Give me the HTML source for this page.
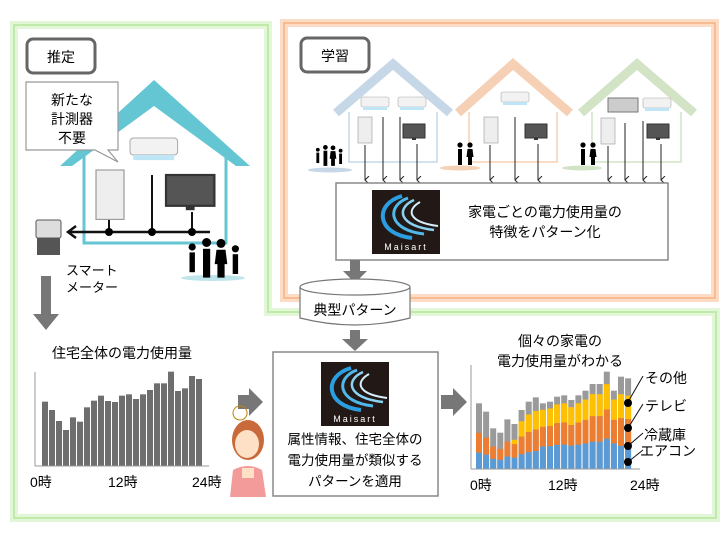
<!DOCTYPE html>
<html><head><meta charset="utf-8"><style>
body{margin:0;background:#fff;}
svg{display:block;font-family:"Liberation Sans","Noto Sans CJK JP",sans-serif;}
</style></head><body>
<svg id="s" width="728" height="539" viewBox="0 0 728 539" xmlns="http://www.w3.org/2000/svg">
<defs>
<g id="logo">
<rect width="68" height="64" fill="#221916"/>
<path d="M30 6 C2 14 4 44 40 48" fill="none" stroke="#2a9ee0" stroke-width="4"/>
<path d="M36 8 C14 16 16 40 52 44" fill="none" stroke="#4fb8ea" stroke-width="3"/>
<path d="M42 10 C24 18 26 36 62 40" fill="none" stroke="#8ad3f2" stroke-width="2.5"/>
<path d="M48 12 C34 20 36 32 66 36" fill="none" stroke="#d6f0fb" stroke-width="2"/>
<text x="34" y="60" font-size="9" fill="#fff" text-anchor="middle" letter-spacing="2">Maisart</text>
</g>
<g id="ac"><rect width="28" height="10" rx="2" fill="#f2f2f2" stroke="#aaa" stroke-width="0.6"/><rect x="2" y="10" width="24" height="3" fill="#bfe6f7"/></g>
<g id="fr"><rect width="14" height="26" fill="#eee" stroke="#999" stroke-width="0.6"/></g>
<g id="tv"><rect width="22" height="14" fill="#555" stroke="#333"/><rect x="9" y="14" width="4" height="2" fill="#333"/></g>
<g id="ppl"><circle cx="4" cy="5" r="2"/><path d="M2.5 8 h3 v11 h-3z"/><circle cx="12" cy="2.5" r="2.5"/><path d="M10 6 h4 v16 h-4z"/><circle cx="20" cy="3" r="2.5"/><path d="M17.5 6.5 h5 l1 8 h-1.5 v7.5 h-4 v-7.5 h-1.5z"/><circle cx="28" cy="6" r="2"/><path d="M26.5 9 h3 v11 h-3z"/></g>
<marker id="ah" markerWidth="8" markerHeight="8" refX="4" refY="7" orient="auto" markerUnits="userSpaceOnUse"><path d="M0 3 L4 7 L8 3" fill="none" stroke="#222" stroke-width="1"/></marker>
</defs>

<path d="M14 25 H268 V312 H716 V518 H14 Z" fill="none" stroke="#e3f6d8" stroke-width="8"/>
<path d="M14 25 H268 V312 H716 V518 H14 Z" fill="none" stroke="#b4e59a" stroke-width="1.5"/>
<rect x="284" y="23" width="431" height="275" fill="none" stroke="#fcdcc4" stroke-width="8"/>
<rect x="284" y="23" width="431" height="275" fill="none" stroke="#f8b081" stroke-width="1.5"/>

<rect x="27" y="39" width="68" height="34" rx="6" fill="#fff" stroke="#666" stroke-width="3"/>
<text x="61" y="62" font-size="14" text-anchor="middle">推定</text>
<rect x="301" y="38" width="68" height="34" rx="6" fill="#fff" stroke="#666" stroke-width="3"/>
<text x="335" y="61" font-size="14" text-anchor="middle">学習</text>

<path d="M60 166 L154 80 L250 166 L236 166 L154 106 L72 166 Z" fill="#64c6d2"/>
<path d="M84 155 V243 H226 V155" fill="none" stroke="#64c6d2" stroke-width="3"/>
<path d="M26 82 H118 V150 H108 L118 162 L95 150 H26 Z" fill="#fff" stroke="#999" stroke-width="1.2"/>
<text x="72" y="105" font-size="14" text-anchor="middle">新たな</text>
<text x="72" y="124" font-size="14" text-anchor="middle">計測器</text>
<text x="72" y="143" font-size="14" text-anchor="middle">不要</text>
<use href="#ac" transform="translate(130,138) scale(1.7)"/>
<use href="#fr" transform="translate(96,170) scale(2,1.9)"/>
<use href="#tv" transform="translate(166,175) scale(2.2)"/>
<line x1="152" y1="175" x2="152" y2="232" stroke="#111" stroke-width="2"/>
<line x1="192" y1="212" x2="192" y2="232" stroke="#111" stroke-width="2"/>
<line x1="109" y1="220" x2="109" y2="232" stroke="#111" stroke-width="2"/>
<line x1="70" y1="232" x2="210" y2="232" stroke="#111" stroke-width="2.5"/>
<path d="M76 226 L68 232 L76 238" fill="none" stroke="#111" stroke-width="2.5"/>
<circle cx="109" cy="232" r="4"/><circle cx="152" cy="232" r="4"/><circle cx="192" cy="232" r="4"/>
<rect x="36" y="220" width="25" height="18" rx="2" fill="#ddd" stroke="#555"/>
<rect x="37" y="238" width="23" height="17" fill="#555"/>
<ellipse cx="213" cy="278" rx="32" ry="3" fill="#bfe5ec"/>
<use href="#ppl" transform="translate(185,238) scale(1.8)"/>
<text x="66" y="275" font-size="13">スマート</text>
<text x="66" y="292" font-size="13">メーター</text>
<rect x="41" y="276" width="10" height="40" fill="#777"/>
<path d="M33 314 L59 314 L46 330 Z" fill="#777"/>

<g fill="none" stroke-width="9">
<path d="M336 113 L393 64 L450 113" stroke="#c6d7e8"/>
<path d="M458 113 L513 64 L570 113" stroke="#f5d0b4"/>
<path d="M581 113 L637 64 L694 113" stroke="#d2e3c6"/>
</g>
<g fill="none" stroke-width="1.5">
<path d="M349 112 V162 H437 V112" stroke="#c6d7e8"/>
<path d="M469 112 V162 H557 V112" stroke="#f5d0b4"/>
<path d="M592 112 V162 H681 V112" stroke="#d2e3c6"/>
</g>
<use href="#ac" transform="translate(361,97)"/><use href="#ac" transform="translate(398,97)"/>
<use href="#ac" transform="translate(501,92)"/>
<rect x="608" y="98" width="30" height="14" fill="#ccc" stroke="#777"/>
<use href="#ac" transform="translate(643,98)"/>
<use href="#fr" transform="translate(358,117)"/><use href="#tv" transform="translate(403,124)"/>
<use href="#fr" transform="translate(484,117)"/><use href="#tv" transform="translate(525,124)"/>
<use href="#fr" transform="translate(601,118)"/><use href="#tv" transform="translate(647,124)"/>
<ellipse cx="330" cy="170" rx="22" ry="2.5" fill="#c6d7e8"/>
<ellipse cx="460" cy="168" rx="20" ry="2.5" fill="#f5d0b4"/>
<ellipse cx="582" cy="168" rx="20" ry="2.5" fill="#d2e3c6"/>
<use href="#ppl" transform="translate(314,145) scale(0.95)"/>
<g transform="translate(455,142)"><circle cx="5" cy="3" r="2.6"/><path d="M3 7 h4 v16 h-4z"/><circle cx="15" cy="3" r="2.6"/><path d="M12.5 7 h5 l1 8 h-1.5 v8 h-4 v-8 h-1.5z"/></g>
<g transform="translate(578,142)"><circle cx="5" cy="3" r="2.6"/><path d="M3 7 h4 v16 h-4z"/><circle cx="15" cy="3" r="2.6"/><path d="M12.5 7 h5 l1 8 h-1.5 v8 h-4 v-8 h-1.5z"/></g>
<g stroke="#222" stroke-width="1" marker-end="url(#ah)">
<line x1="365" y1="145" x2="365" y2="180"/><line x1="383" y1="117" x2="383" y2="180"/>
<line x1="400" y1="117" x2="400" y2="180"/><line x1="417" y1="144" x2="417" y2="180"/>
<line x1="490" y1="145" x2="490" y2="180"/><line x1="515" y1="117" x2="515" y2="180"/>
<line x1="538" y1="144" x2="538" y2="180"/>
<line x1="608" y1="146" x2="608" y2="180"/><line x1="625" y1="123" x2="625" y2="180"/>
<line x1="643" y1="121" x2="643" y2="180"/><line x1="661" y1="144" x2="661" y2="180"/>
</g>
<rect x="336" y="183" width="332" height="77" fill="#fff" stroke="#888" stroke-width="1.5"/>
<use href="#logo" transform="translate(372,190)"/>
<text x="545" y="217" font-size="14" text-anchor="middle">家電ごとの電力使用量の</text>
<text x="545" y="237" font-size="14" text-anchor="middle">特徴をパターン化</text>
<rect x="350" y="260" width="10" height="12" fill="#777"/><path d="M343 271 H367 L355 283 Z" fill="#777"/>

<path d="M300 287 V318 Q355 332 410 318 V287" fill="#fff" stroke="#777" stroke-width="1.2"/>
<ellipse cx="355" cy="287" rx="55" ry="8" fill="#fff" stroke="#777" stroke-width="1.2"/>
<text x="355" y="315" font-size="14" text-anchor="middle">典型パターン</text>
<rect x="350" y="330" width="10" height="10" fill="#777"/><path d="M342 339 H368 L355 351 Z" fill="#777"/>

<text x="122" y="358" font-size="14" text-anchor="middle">住宅全体の電力使用量</text>
<g id="lc"></g>
<line x1="35" y1="372" x2="35" y2="466" stroke="#999"/>
<line x1="35" y1="466" x2="209" y2="466" stroke="#999"/>
<text x="30" y="487" font-size="14">0時</text>
<text x="108" y="487" font-size="14">12時</text>
<text x="192" y="487" font-size="14">24時</text>

<rect x="238" y="395" width="12" height="14" fill="#777"/><path d="M249 388 L263 402 L249 416 Z" fill="#777"/>
<rect x="441" y="395" width="13" height="14" fill="#777"/><path d="M453 388 L467 402 L453 416 Z" fill="#777"/>

<path d="M240 420 a7 7 0 1 1 0.1 0" fill="none" stroke="#b8860b"/>
<ellipse cx="248" cy="440" rx="16" ry="20" fill="#c86a3a"/>
<ellipse cx="247" cy="444" rx="12" ry="14" fill="#fde0c6"/>
<path d="M233 470 Q248 462 262 470 L266 497 H230 Z" fill="#f39a9a"/>
<rect x="242" y="468" width="12" height="10" fill="#fde0c6"/>

<rect x="273" y="352" width="165" height="144" fill="#fff" stroke="#888" stroke-width="1.5"/>
<use href="#logo" transform="translate(321,362)"/>
<text x="355" y="444" font-size="13.5" text-anchor="middle">属性情報、住宅全体の</text>
<text x="355" y="465" font-size="13.5" text-anchor="middle">電力使用量が類似する</text>
<text x="355" y="486" font-size="13.5" text-anchor="middle">パターンを適用</text>

<text x="560" y="346" font-size="14" text-anchor="middle">個々の家電の</text>
<text x="560" y="366" font-size="14" text-anchor="middle">電力使用量がわかる</text>
<g id="rc"></g>
<line x1="471" y1="365" x2="471" y2="469" stroke="#999"/>
<line x1="471" y1="469" x2="640" y2="469" stroke="#999"/>
<text x="470" y="490" font-size="14">0時</text>
<text x="548" y="490" font-size="14">12時</text>
<text x="630" y="490" font-size="14">24時</text>
<g stroke="#111" stroke-width="1">
<line x1="628" y1="402" x2="643" y2="376"/><line x1="628" y1="428" x2="643" y2="404"/>
<line x1="628" y1="446" x2="643" y2="433"/><line x1="628" y1="462" x2="643" y2="450"/>
</g>
<circle cx="628" cy="403" r="4"/><circle cx="628" cy="428" r="4"/><circle cx="628" cy="446" r="4"/><circle cx="628" cy="462" r="4"/>
<text x="645" y="383" font-size="14">その他</text>
<text x="645" y="411" font-size="14">テレビ</text>
<text x="644" y="440" font-size="14">冷蔵庫</text>
<text x="640" y="456" font-size="14">エアコン</text>
</svg>
<script>
var ns="http://www.w3.org/2000/svg";
function r(g,x,y,w,h,c){var e=document.createElementNS(ns,"rect");e.setAttribute("x",x);e.setAttribute("y",y);e.setAttribute("width",w);e.setAttribute("height",h);e.setAttribute("fill",c);g.appendChild(e);}
var L=[305,330,363,390,352,365,322,302,287,303,306,287,283,297,283,270,250,250,215,273,265,228,237];
var lc=document.getElementById("lc");
L.forEach(function(v,i){var y=300+v/3;r(lc,42+i*7,y,6,466-y,"#6e6e6e");});
var R=[310,335,385,398,358,372,330,305,292,310,305,290,286,300,286,272,252,252,215,272,230,235];
var rc=document.getElementById("rc");
R.forEach(function(v,i){var top=300+v/3;var x=476+i*7.1;var h=469-top;
 var b=h*0.25+(i>8&&i<20?6:0), o=h*0.3, yy=(i>5?h*0.26:(i>4?h*0.1:0));
 r(rc,x,top,6,h,"#9a9a9a");
 r(rc,x,469-b-o-yy,6,yy,"#ffc000");
 r(rc,x,469-b-o,6,o,"#ed7d31");
 r(rc,x,469-b,6,b,"#5b9bd5");});
</script>
</body></html>
